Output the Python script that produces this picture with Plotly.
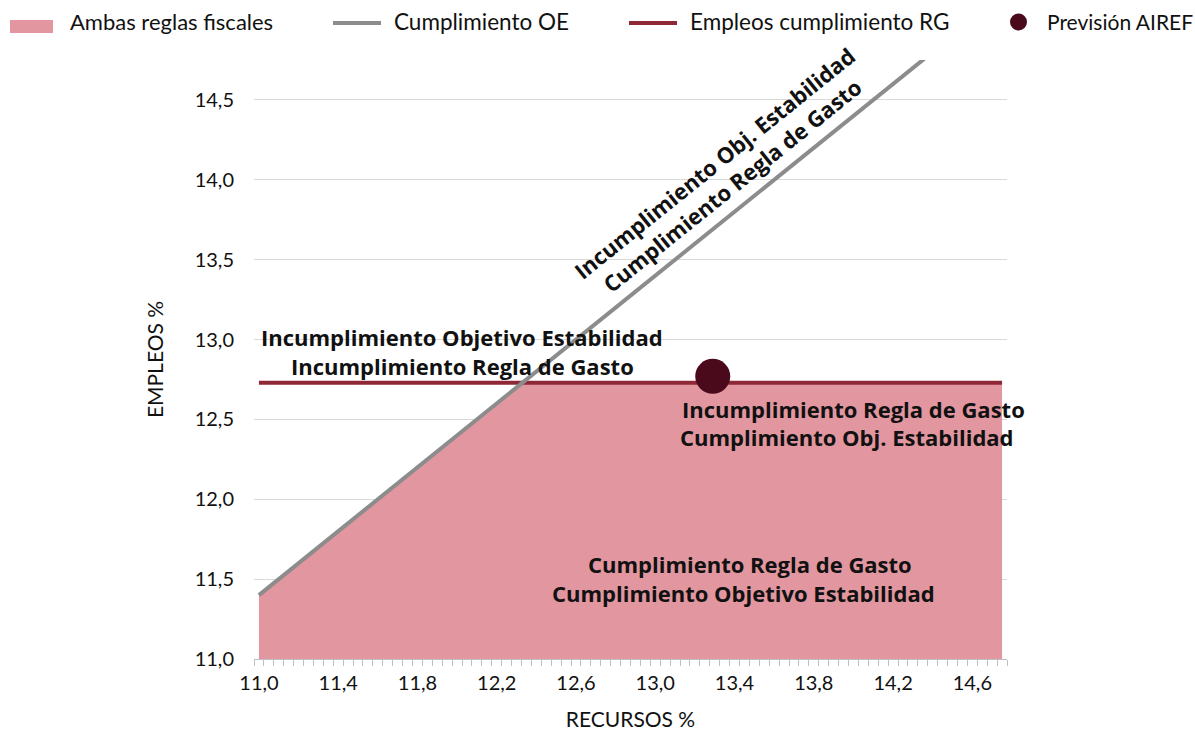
import plotly.graph_objects as go

# ---------------- data ----------------
oe_x = [11.0, 14.75]            # Cumplimiento OE (recursos)
oe_y = [11.4, 15.15]            # Cumplimiento OE (empleos)
rg_x = [11.0, 14.75]            # Empleos cumplimiento RG
rg_y = [12.73, 12.73]
ambas_x = [11.0, 12.33, 14.75]  # Ambas reglas fiscales (frontera)
ambas_y = [11.4, 12.73, 12.73]
airef_x = [13.29]               # Previsión AIREF
airef_y = [12.77]

x_tickvals = [11.0, 11.4, 11.8, 12.2, 12.6, 13.0, 13.4, 13.8, 14.2, 14.6]
x_ticktext = ["11,0", "11,4", "11,8", "12,2", "12,6", "13,0", "13,4", "13,8", "14,2", "14,6"]
y_tickvals = [11.0, 11.5, 12.0, 12.5, 13.0, 13.5, 14.0, 14.5]
y_ticktext = ["11,0", "11,5", "12,0", "12,5", "13,0", "13,5", "14,0", "14,5"]

legend_names = ["Ambas reglas fiscales", "Cumplimiento OE", "Empleos cumplimiento RG", "Previsión AIREF"]

# ---------------- style ----------------
W, H = 1195, 732
L, R, T, B = 254, 1007, 60, 659
FONT = "Lato"
BFONT = "Open Sans"
C_FILL = "#E2969F"
C_OE = "#8C8C8C"
C_RG = "#8E2836"
C_PT = "#4A0A1B"


def px(xp):
    return (xp - L) / (R - L)


def py(yp):
    return (B - yp) / (B - T)


fig = go.Figure()
fig.add_trace(go.Scatter(x=ambas_x, y=ambas_y, mode="lines", fill="tozeroy",
                         fillcolor=C_FILL, line=dict(width=0, color=C_FILL),
                         name=legend_names[0], showlegend=False, hoverinfo="skip"))
fig.add_trace(go.Scatter(x=rg_x, y=rg_y, mode="lines", line=dict(color=C_RG, width=4),
                         name=legend_names[2], showlegend=False))
fig.add_trace(go.Scatter(x=oe_x, y=oe_y, mode="lines", line=dict(color=C_OE, width=4),
                         name=legend_names[1], showlegend=False))
fig.add_trace(go.Scatter(x=airef_x, y=airef_y, mode="markers",
                         marker=dict(color=C_PT, size=35, line=dict(width=0)),
                         name=legend_names[3], showlegend=False, cliponaxis=False))

# ---------------- manual legend ----------------
fig.add_shape(type="rect", xref="paper", yref="paper", x0=px(10), x1=px(53), y0=py(33), y1=py(20),
              fillcolor=C_FILL, line=dict(width=0))
fig.add_shape(type="line", xref="paper", yref="paper", x0=px(333), x1=px(381), y0=py(23), y1=py(23),
              line=dict(color=C_OE, width=4))
fig.add_shape(type="line", xref="paper", yref="paper", x0=px(629), x1=px(677), y0=py(23), y1=py(23),
              line=dict(color=C_RG, width=4))
fig.add_shape(type="circle", xref="paper", yref="paper", x0=px(1010), x1=px(1027), y0=py(30.5), y1=py(13.5),
              fillcolor=C_PT, line=dict(width=0))
for xl, name, fs in zip([68, 392, 688, 1045], legend_names, [22, 22.5, 22.5, 21]):
    fig.add_annotation(x=px(xl), y=py(21), xref="paper", yref="paper", text=name, showarrow=False,
                       xanchor="left", yanchor="middle", font=dict(family=FONT, size=fs, color="#111"))

# ---------------- region labels ----------------
bold = dict(family=BFONT, size=22, color="#111", weight="bold")
labels = [
    ("Incumplimiento Objetivo Estabilidad", 462, 337),
    ("Incumplimiento Regla de Gasto", 462, 366),
    ("Incumplimiento Regla de Gasto", 853, 409),
    ("Cumplimiento Obj. Estabilidad", 847, 437),
    ("Cumplimiento Regla de Gasto", 750, 564),
    ("Cumplimiento Objetivo Estabilidad", 743, 593),
]
for txt, xc, yc in labels:
    fig.add_annotation(x=px(xc), y=py(yc), xref="paper", yref="paper", text="<b>%s</b>" % txt,
                       showarrow=False, xanchor="center", yanchor="middle", font=bold)
for txt, xc, yc in [("Incumplimiento Obj. Estabilidad", 714, 163),
                    ("Cumplimiento Regla de Gasto", 732, 185)]:
    fig.add_annotation(x=px(xc), y=py(yc), xref="paper", yref="paper", text="<b>%s</b>" % txt,
                       showarrow=False, xanchor="center", yanchor="middle", textangle=-38.9, font=bold)

fig.update_layout(
    width=W, height=H,
    margin=dict(l=L, r=W - R, t=T, b=H - B, pad=0),
    paper_bgcolor="white", plot_bgcolor="white",
    showlegend=False,
    font=dict(family=FONT, size=20, color="#111"),
    xaxis=dict(range=[10.975, 14.775], tickmode="array", tickvals=x_tickvals, ticktext=x_ticktext,
               ticks="", showgrid=False, zeroline=False, showline=True, linecolor="#BFBFBF", linewidth=1,
               minor=dict(ticks="outside", tick0=10.975, dtick=0.05, ticklen=6, tickcolor="#BFBFBF",
                          showgrid=False),
               automargin=False,
               tickfont=dict(family=FONT, size=20, color="#111"), ticklabelstandoff=6,
               title=dict(text="RECURSOS %", font=dict(family=FONT, size=21, color="#111"), standoff=19)),
    yaxis=dict(range=[11, 14.75], tickmode="array", tickvals=y_tickvals, ticktext=y_ticktext,
               ticks="", showgrid=True, gridcolor="#D9D9D9", gridwidth=1, zeroline=False, showline=False,
               automargin=False,
               tickfont=dict(family=FONT, size=20, color="#111"), ticklabelstandoff=19,
               title=dict(text="EMPLEOS %", font=dict(family=FONT, size=21, color="#111"), standoff=25)),
)

fig.write_html("out.html", config={"displayModeBar": False},
               post_script="document.body.style.margin='0px';")
